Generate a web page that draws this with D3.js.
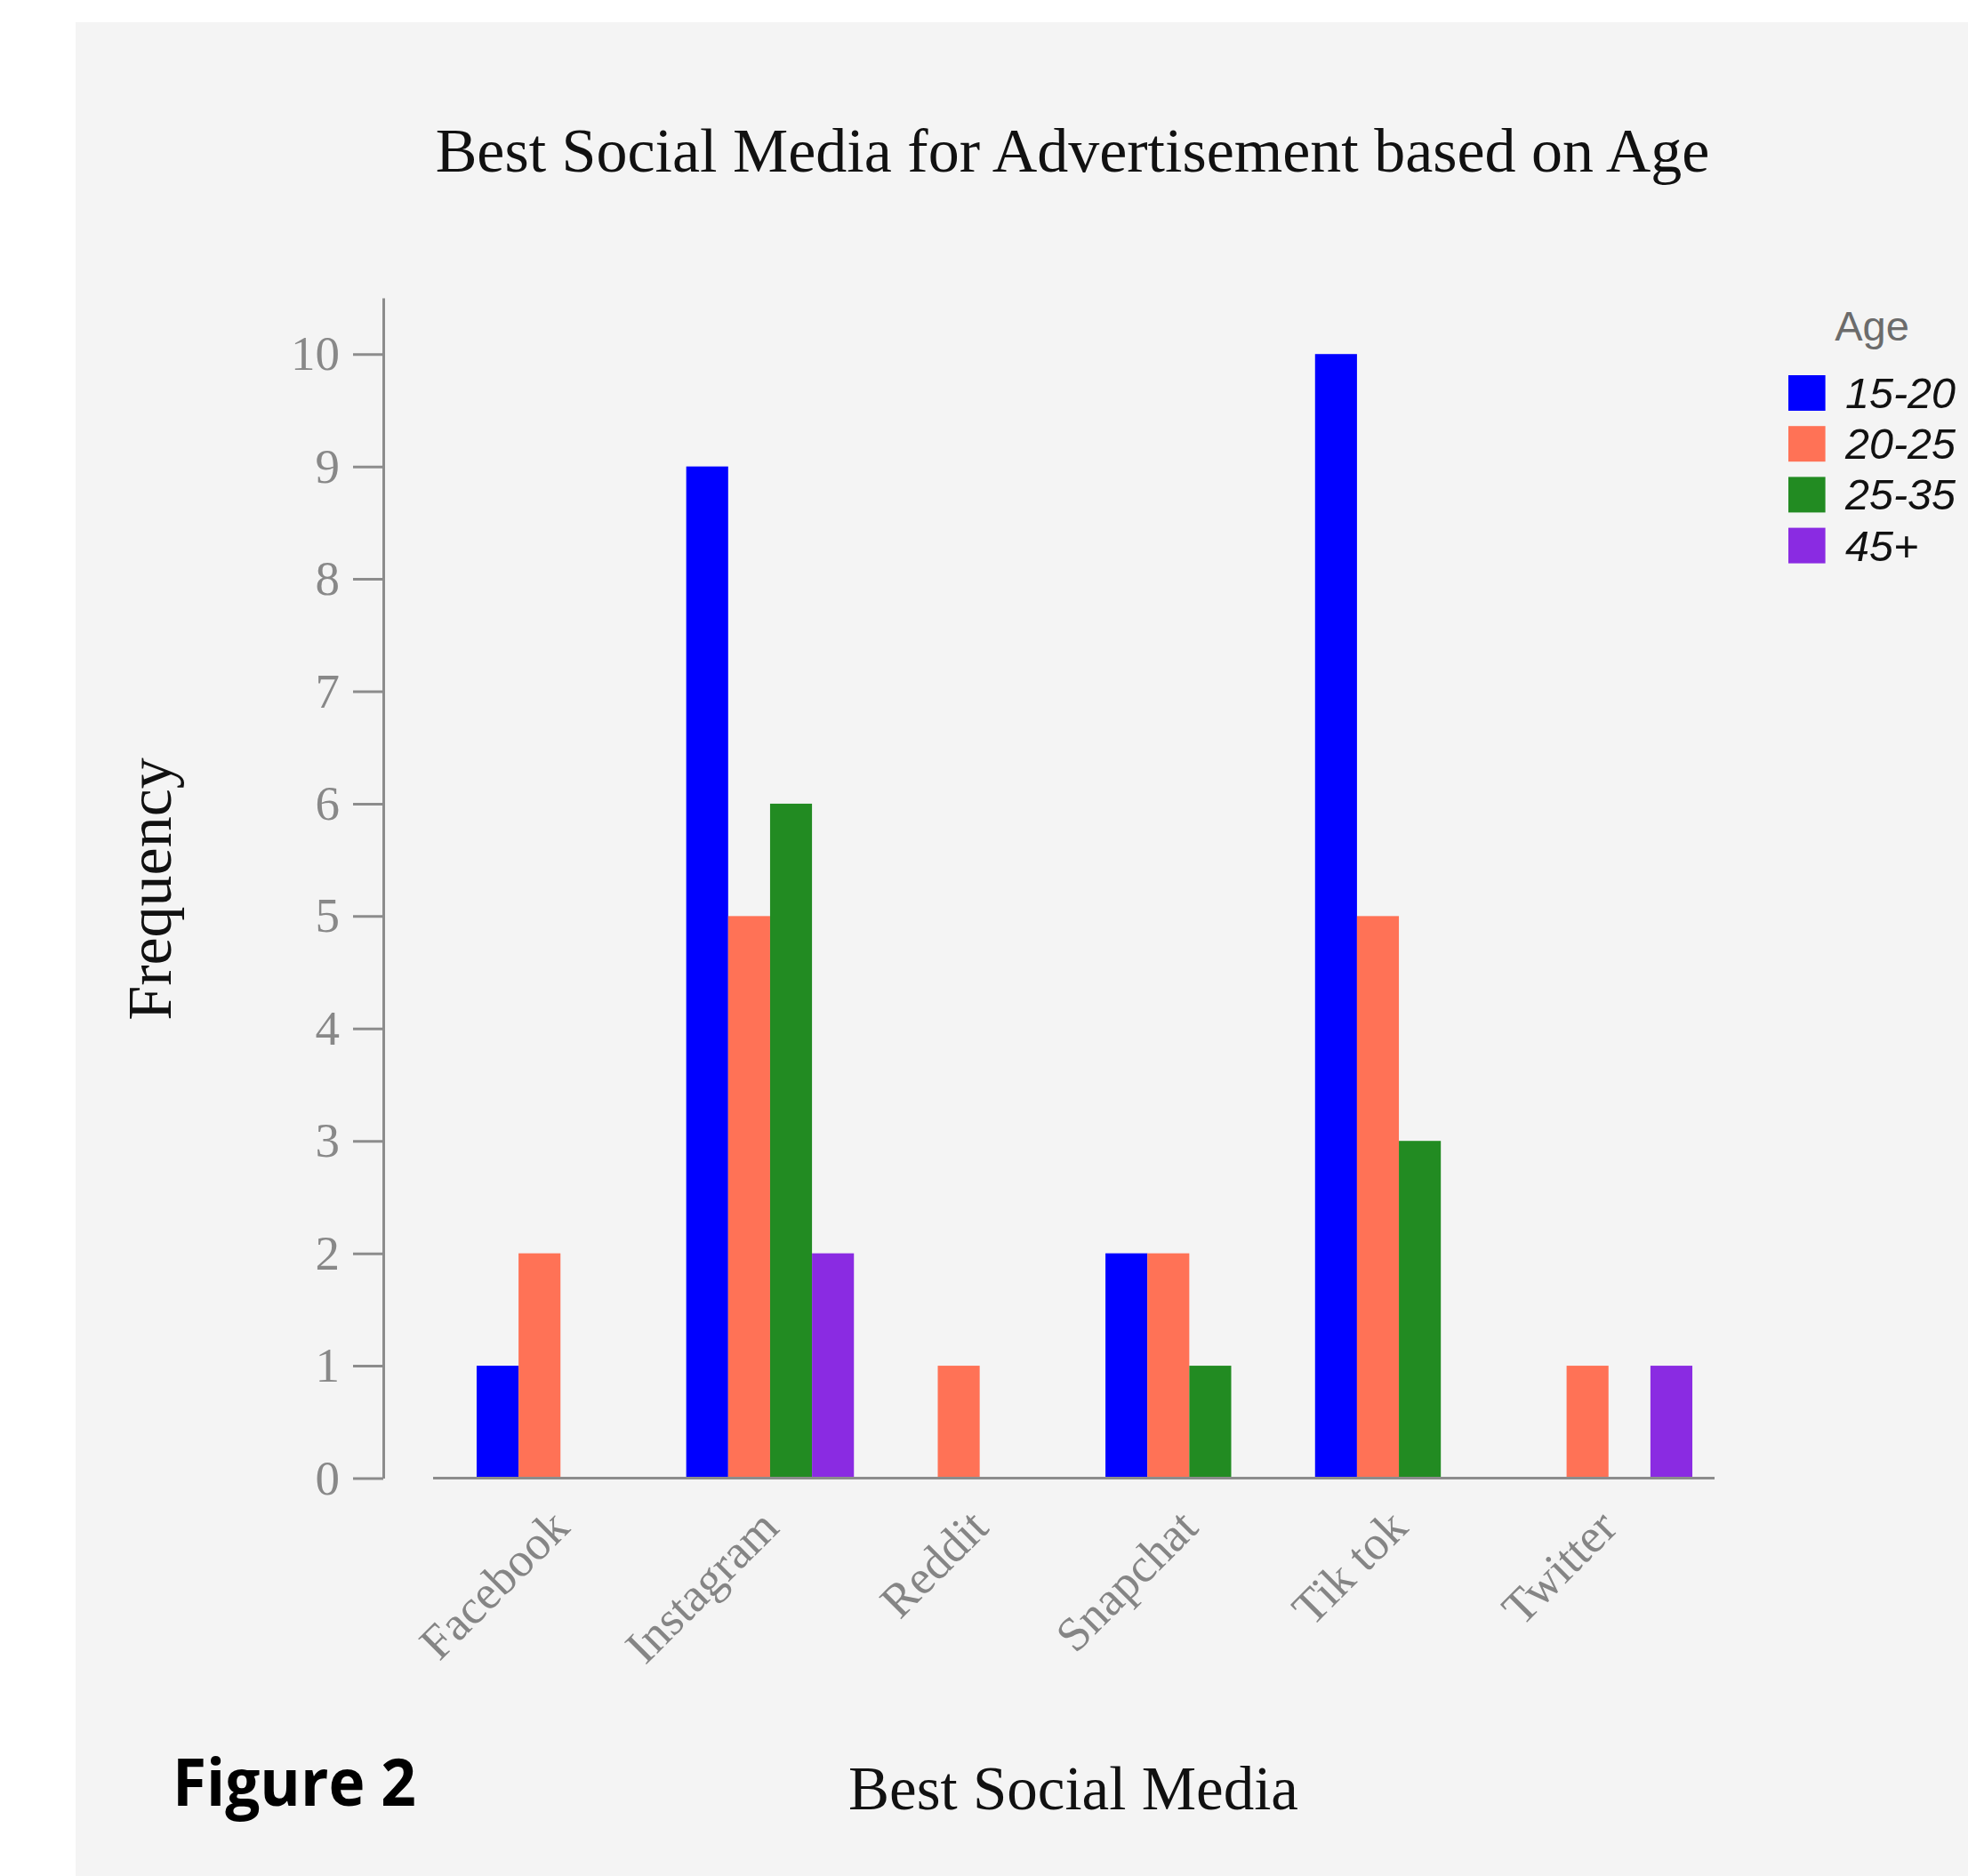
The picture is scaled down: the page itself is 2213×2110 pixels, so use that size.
<!DOCTYPE html>
<html>
<head>
<meta charset="utf-8">
<script src="https://cdn.jsdelivr.net/npm/d3@7"></script>
<style>
  html, body { margin: 0; padding: 0; background: #ffffff; }
  svg { display: block; }
</style>
</head>
<body>
<svg id="chart" width="2213" height="2110"></svg>
<script>
// ---- data ----
const categories = ["Facebook", "Instagram", "Reddit", "Snapchat", "Tik tok", "Twitter"];
const ageGroups = ["15-20", "20-25", "25-35", "45+"];
const age15to20 = [1, 9, 0, 2, 10, 0];
const age20to25 = [2, 5, 1, 2, 5, 1];
const age25to35 = [0, 6, 0, 1, 3, 0];
const age45plus = [0, 2, 0, 0, 0, 1];
const yTicks = [0, 1, 2, 3, 4, 5, 6, 7, 8, 9, 10];
const colors = ["#0000ff", "#ff7256", "#228b22", "#8a2be2"];

const seriesValues = [age15to20, age20to25, age25to35, age45plus];
const rows = [];
categories.forEach((c, i) => {
  ageGroups.forEach((a, j) => {
    rows.push({ category: c, age: a, value: seriesValues[j][i] });
  });
});

// ---- layout ----
const svg = d3.select("#chart");
svg.append("rect").attr("x", 85).attr("y", 25).attr("width", 2213 - 85).attr("height", 2110 - 25)
  .attr("fill", "#f4f4f4");

const axisColor = "#8c8c8c";
const serif = "'Liberation Serif', 'Times New Roman', serif";
const sans = "'Liberation Sans', Arial, sans-serif";

const x0 = d3.scaleBand().domain(categories).range([512.4, 1926.6]).paddingInner(0.2).paddingOuter(0.1);
const x1 = d3.scaleBand().domain(ageGroups).range([0, x0.bandwidth()]).padding(0);
const y = d3.scaleLinear().domain([0, 10.5]).range([1662.5, 335]);
const color = d3.scaleOrdinal().domain(ageGroups).range(colors);

// bars
svg.append("g").selectAll("rect")
  .data(rows.filter(d => d.value > 0))
  .join("rect")
  .attr("x", d => x0(d.category) + x1(d.age))
  .attr("y", d => y(d.value))
  .attr("width", x1.bandwidth())
  .attr("height", d => y(0) - y(d.value))
  .attr("fill", d => color(d.age));

// y axis
const yAxis = svg.append("g")
  .attr("transform", "translate(431,0)")
  .call(d3.axisLeft(y).tickValues(yTicks).tickFormat(d3.format("d")).tickSize(34).tickSizeOuter(0).tickPadding(15));
yAxis.select(".domain").attr("stroke", axisColor).attr("stroke-width", 3);
yAxis.selectAll(".tick line").attr("stroke", axisColor).attr("stroke-width", 3);
yAxis.selectAll(".tick text").attr("fill", "#888888")
  .style("font-family", serif).style("font-size", "55px");

// x axis
const xAxis = svg.append("g")
  .attr("transform", `translate(0,${y(0)})`)
  .call(d3.axisBottom(x0).tickSize(0).tickPadding(0));
xAxis.select(".domain").attr("d", "M487,0H1928").attr("stroke", axisColor).attr("stroke-width", 3);
xAxis.selectAll(".tick text")
  .attr("fill", "#858585")
  .style("font-family", serif).style("font-size", "54px")
  .attr("text-anchor", "end")
  .attr("dy", "0.32em")
  .attr("transform", "translate(0,46) rotate(-45)");

// title
svg.append("text").attr("x", 1206).attr("y", 193).attr("text-anchor", "middle")
  .style("font-family", serif).style("font-size", "70px").attr("fill", "#111")
  .text("Best Social Media for Advertisement based on Age");

// x title
svg.append("text").attr("x", 1207).attr("y", 2035).attr("text-anchor", "middle")
  .style("font-family", serif).style("font-size", "69px").attr("fill", "#111")
  .text("Best Social Media");

// y title
svg.append("text").attr("transform", "translate(192,1000) rotate(-90)").attr("text-anchor", "middle")
  .style("font-family", serif).style("font-size", "70px").attr("fill", "#111")
  .text("Frequency");

// Figure label
svg.append("text").attr("x", 194).attr("y", 2031)
  .style("font-family", "'Open Sans', 'Noto Sans', sans-serif").style("font-weight", "700")
  .style("font-size", "74px").attr("fill", "#000")
  .attr("textLength", 274).attr("lengthAdjust", "spacingAndGlyphs")
  .text("Figure 2");

// legend
const legend = svg.append("g");
legend.append("text").attr("x", 2105).attr("y", 383).attr("text-anchor", "middle")
  .style("font-family", sans).style("font-size", "47px")
  .attr("fill", "#6b6b6b").text("Age");
const li = legend.selectAll("g.item").data(ageGroups).join("g").attr("class", "item")
  .attr("transform", (d, i) => `translate(2011,${422 + i * 57.2})`);
li.append("rect").attr("width", 41.6).attr("height", 40).attr("fill", d => color(d));
li.append("text").attr("x", 64).attr("y", 37)
  .style("font-family", sans).style("font-size", "48.5px")
  .style("font-style", "italic").attr("fill", "#111").text(d => d);
</script>
</body>
</html>
